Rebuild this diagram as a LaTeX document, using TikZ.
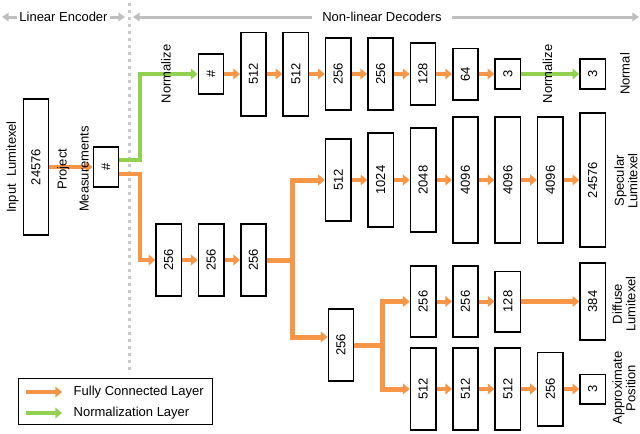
\documentclass[tikz,border=0pt]{standalone}
\usepackage{fontspec}
\setmainfont{Liberation Sans}
\usetikzlibrary{arrows.meta,positioning}
\definecolor{fcorange}{HTML}{F79646}
\definecolor{nlgreen}{HTML}{92D050}
\definecolor{hdrgray}{HTML}{BFBFBF}
\newcommand{\up}[1]{\rotatebox{90}{#1}}

\begin{document}
\begin{tikzpicture}[
    x=0.75pt, y=-0.75pt,
    font=\fontsize{9.75}{10}\selectfont,
    node distance=11.6pt,
    layer/.style={draw, line width=1.2pt, inner sep=0pt,
                  minimum width=19pt, minimum height={#1*0.75pt-1.2pt}},
    fc/.style={draw=fcorange, line width=3pt,
               -{Triangle[length=5pt,width=8pt]}},
    fcb/.style={fc, line width=3.75pt},
    nl/.style={draw=nlgreen, line width=3pt,
               -{Triangle[length=5pt,width=8pt]}},
    lbl/.style={rotate=90, align=center, inner sep=0pt},
    hdr/.style={draw=hdrgray, line width=2.25pt,
                {Triangle[length=5pt,width=6.5pt]}-{Triangle[length=5pt,width=6.5pt]}},
    divider/.style={draw=hdrgray!85, line width=2.25pt,
                    dash pattern=on 2.25pt off 3pt},
]
\useasboundingbox (0,0) rectangle (640,433);

% Header
\coordinate (hL) at (2,17);
\coordinate (hM1) at (125,17);
\coordinate (hM2) at (133,17);
\coordinate (hR) at (639,17);
\coordinate (dvt) at (129.5,3);
\coordinate (dvb) at (129.5,374);
\draw[divider] (dvt) -- (dvb);
\draw[hdr] (hL) -- node[fill=white, inner xsep=1.5pt] (enclbl) {Linear Encoder} (hM1);
\draw[hdr] (hM2) -- node[fill=white, inner xsep=8pt, pos=0.492] (declbl)
      {Non-linear Decoders} (hR);

% Linear encoder
\node[layer=138] (in) at (36,167) {\up{24576}};
\node[layer=42] (enc) at (106,167) {\up{\#}};
\coordinate (split) at (140,167);

% Normal decoder
\node[layer=42] (nh) at (211,74) {\up{\#}};
\node[layer=85, right=of nh] (n1) {\up{512}};
\node[layer=85, right=of n1] (n2) {\up{512}};
\node[layer=74, right=of n2] (n3) {\up{256}};
\node[layer=74, right=of n3] (n4) {\up{256}};
\node[layer=64, right=of n4] (n5) {\up{128}};
\node[layer=53, right=of n5] (n6) {\up{64}};
\node[layer=32, right=of n6] (n7) {\up{3}};

% Shared trunk
\node[layer=74] (e1) at (168.7,260) {\up{256}};
\node[layer=74, right=of e1] (e2) {\up{256}};
\node[layer=74, right=of e2] (e3) {\up{256}};
\coordinate (br1) at (292,337);

% Specular decoder
\node[layer=84] (s1) at (338.3,180) {\up{512}};
\node[layer=96, right=of s1] (s2) {\up{1024}};
\node[layer=106, right=of s2] (s3) {\up{2048}};
\node[layer=128, right=of s3] (s4) {\up{4096}};
\node[layer=128, right=of s4] (s5) {\up{4096}};
\node[layer=128, right=of s5] (s6) {\up{4096}};
\node[layer=136, right=of s6] (s7) {\up{24576}};
\node[layer=32] (nout) at (s7 |- n7) {\up{3}};

% Diffuse and position decoders
\node[layer=74] (m) at (341,345) {\up{256}};
\coordinate (br2) at (382,345);
\node[layer=73] (d1) at (423.1,301.5) {\up{256}};
\node[layer=73, right=of d1] (d2) {\up{256}};
\node[layer=62, right=of d2] (d3) {\up{128}};
\node[layer=79] (dout) at (s7 |- d1) {\up{384}};
\node[layer=84] (p1) at (423.1,389) {\up{512}};
\node[layer=84, right=of p1] (p2) {\up{512}};
\node[layer=84, right=of p2] (p3) {\up{512}};
\node[layer=75, right=of p3] (p4) {\up{256}};
\node[layer=31, right=of p4] (pout) {\up{3}};

% Arrows
\draw[fc] (in) -- (enc);
\draw[nl] ([yshift=5.25pt]enc.east) -| (split |- nh.west)
      -- node[lbl, pos=0.45] (nrm1) {Normalize} (nh.west);
\draw[fc] ([yshift=-5.25pt]enc.east) -| (split |- e1.west) -- (e1.west);
\draw[fc] (nh) -- (n1);
\draw[fc] (n1) -- (n2);
\draw[fc] (n2) -- (n3);
\draw[fc] (n3) -- (n4);
\draw[fc] (n4) -- (n5);
\draw[fc] (n5) -- (n6);
\draw[fc] (n6) -- (n7);
\draw[nl] (n7) -- node[lbl, pos=0.45] (nrm2) {Normalize} (nout);
\draw[fc] (e1) -- (e2);
\draw[fc] (e2) -- (e3);
\draw[fcb] (e3.east) -| (br1 |- s1.west) -- (s1.west);
\draw[fcb] (e3.east) -| (br1) -- (br1 -| m.west);
\draw[fc] (s1) -- (s2);
\draw[fc] (s2) -- (s3);
\draw[fc] (s3) -- (s4);
\draw[fc] (s4) -- (s5);
\draw[fc] (s5) -- (s6);
\draw[fc] (s6) -- (s7);
\draw[fcb] (m.east) -| (br2 |- d1.west) -- (d1.west);
\draw[fcb] (m.east) -| (br2 |- p1.west) -- (p1.west);
\draw[fc] (d1) -- (d2);
\draw[fc] (d2) -- (d3);
\draw[fcb] (d3.east) -- (d3.east -| dout.west);
\draw[fc] (p1) -- (p2);
\draw[fc] (p2) -- (p3);
\draw[fc] (p3) -- (p4);
\draw[fc] (p4) -- (pout);

% Labels
\node[lbl] (inlbl) at (12.5,167) {Input\ \ Lumitexel};
\node[lbl] (projlbl) at (73,169) {Project\\[6.5pt]Measurements};
\node[lbl] (nlbl) at (625,74) {Normal};
\node[lbl] (slbl) at (626,181) {Specular\\Lumitexel};
\node[lbl] (dlbl) at (624,304) {Diffuse\\Lumitexel};
\node[lbl] (plbl) at (624,388) {Approximate\\Position};

% Legend
\node[draw, line width=0.75pt, inner sep=0pt, minimum width=145.5pt,
      minimum height=34.5pt] (legend) at (115.5,401.5) {};
\coordinate (lfca) at (26,392);
\coordinate (lnla) at (26,413);
\node[anchor=west] (lfc) at (69,392) {Fully Connected Layer};
\node[anchor=west] (lnl) at (69,413) {Normalization Layer};
\draw[fc] (lfca) -- ([xshift=-5.25pt]lfc.west);
\draw[nl] (lnla) -- ([xshift=-5.25pt]lnl.west);
\end{tikzpicture}
\end{document}
